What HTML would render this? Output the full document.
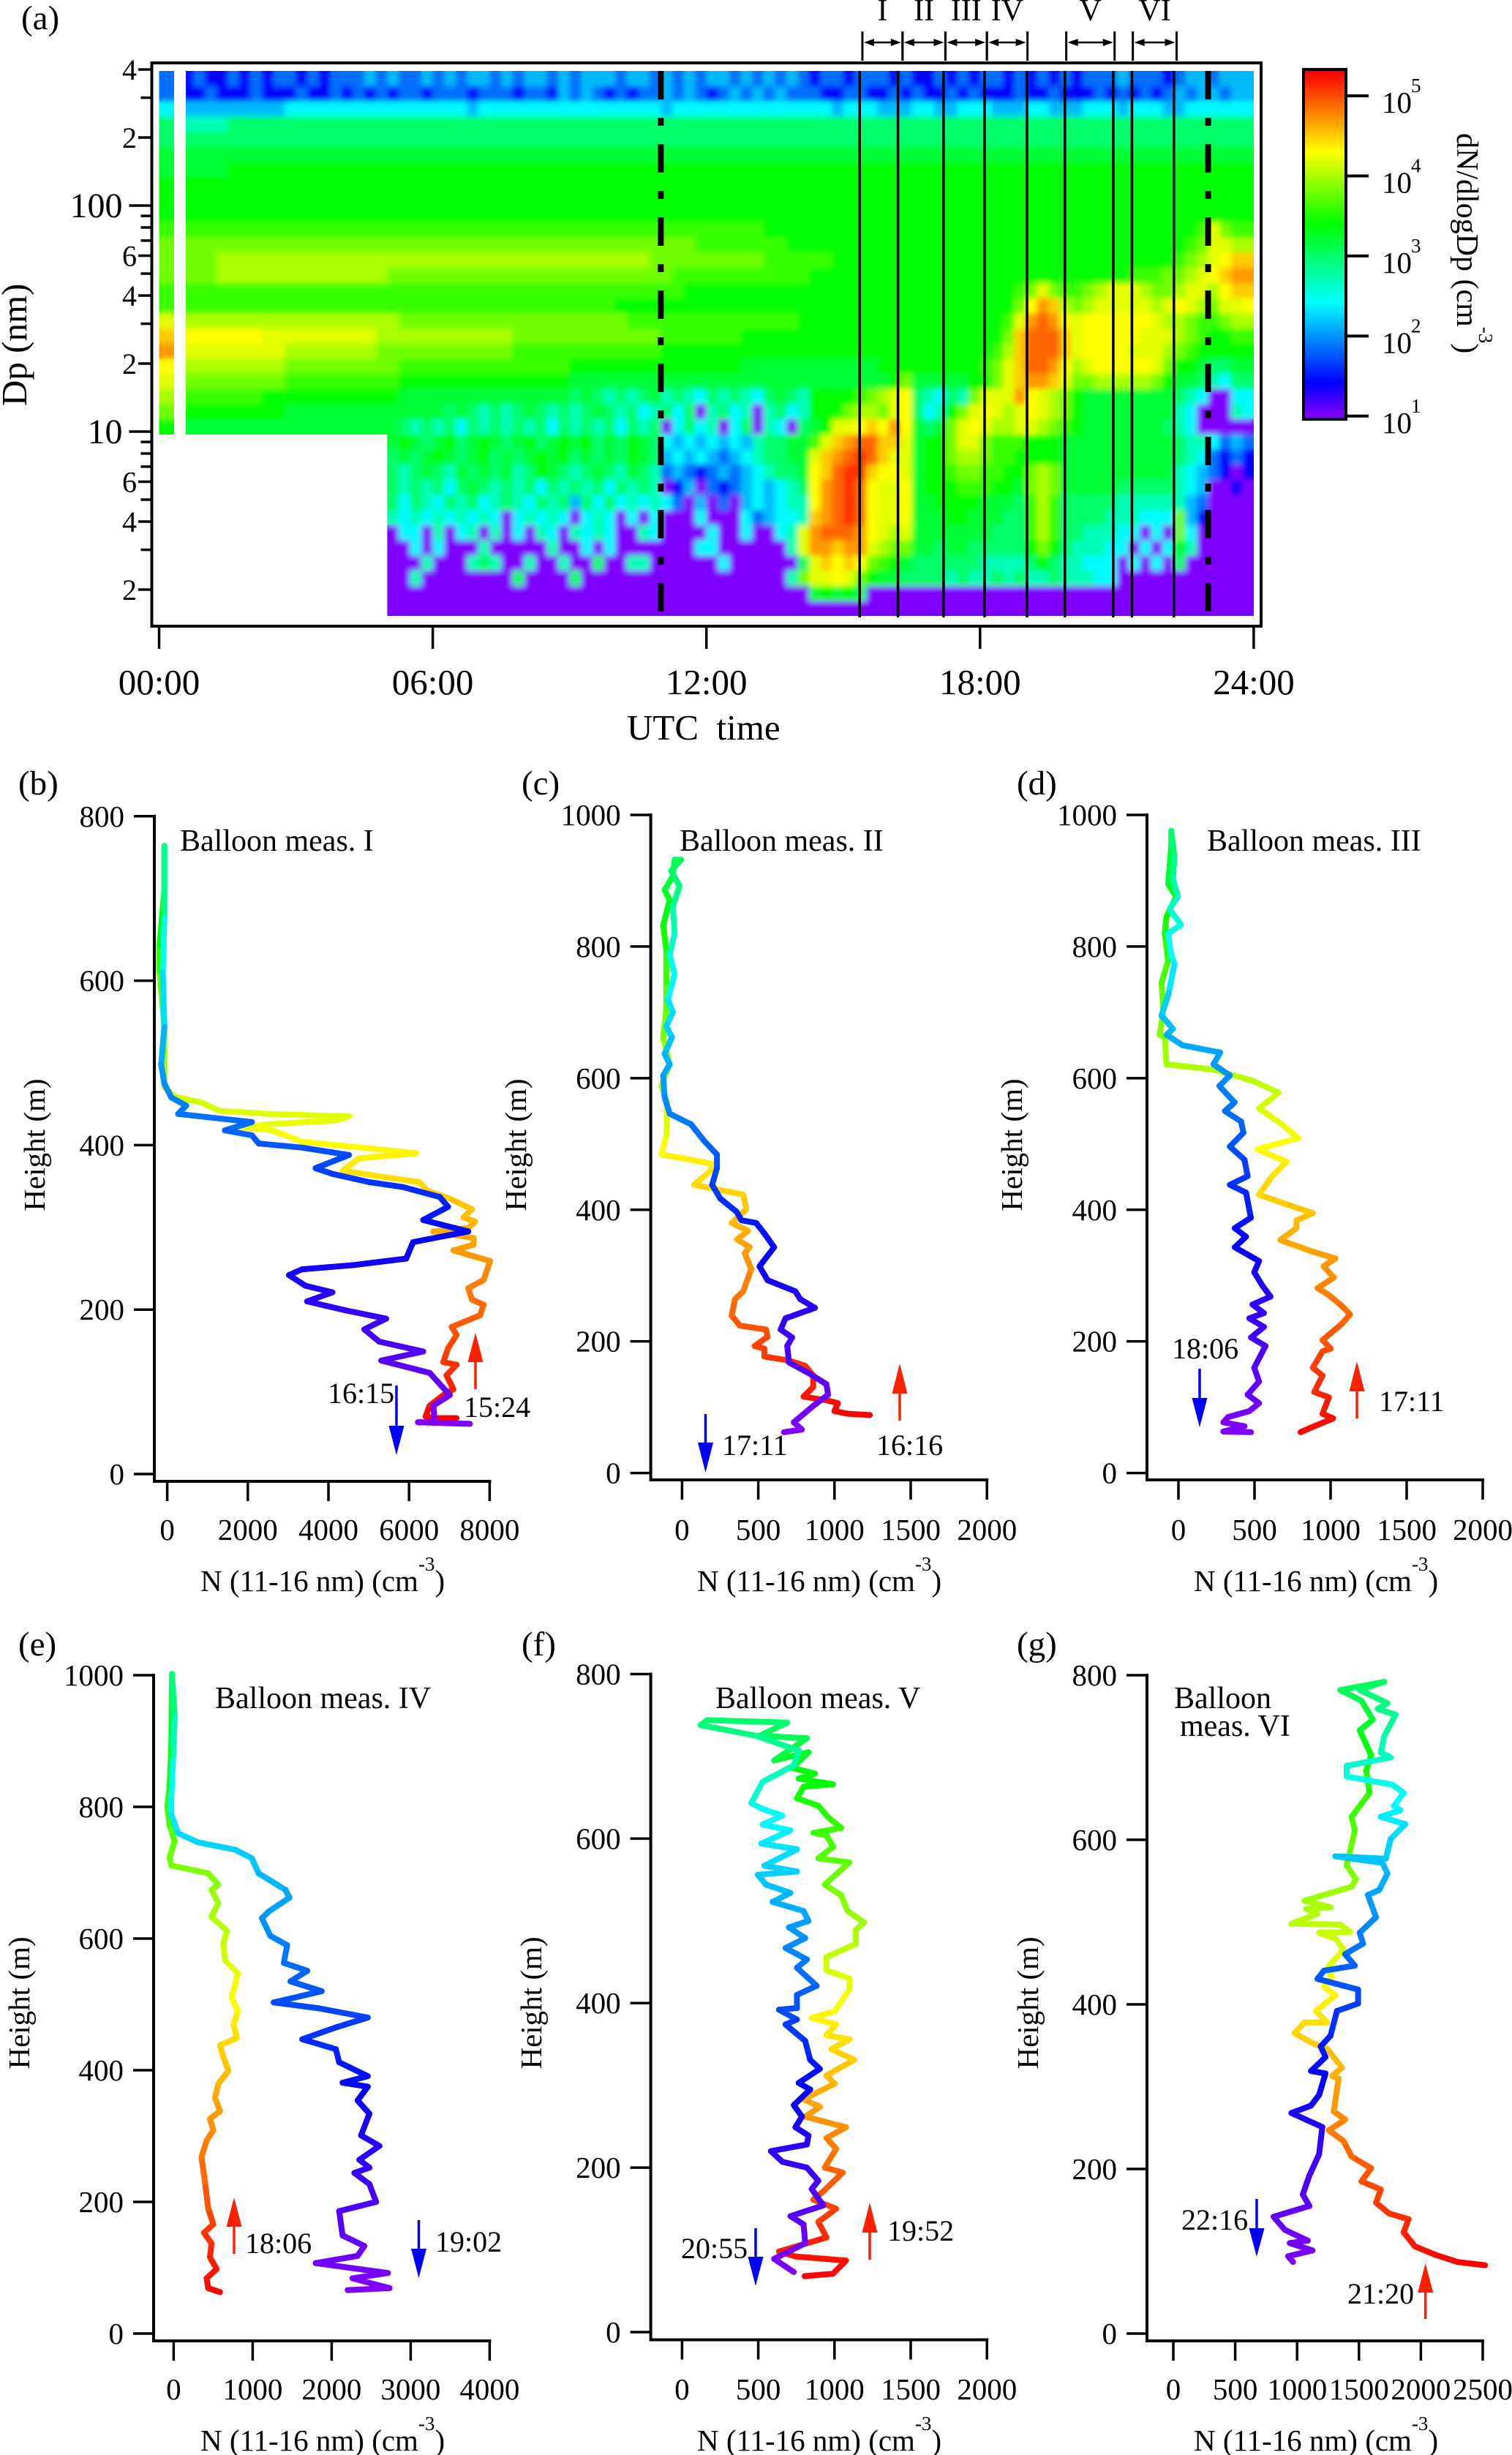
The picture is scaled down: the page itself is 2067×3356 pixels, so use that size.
<!DOCTYPE html>
<html><head><meta charset="utf-8"><title>Particle size distribution and balloon profiles</title>
<style>
html,body{margin:0;padding:0;background:#fff}
svg{display:block}
text{font-family:"Liberation Serif",serif;fill:#000}
.t41{font-size:41px}.t42{font-size:42px}.t47{font-size:47px}.t49{font-size:49px}.t39{font-size:40px}
</style></head><body>
<svg id="fig" xmlns="http://www.w3.org/2000/svg" width="2067" height="3356" viewBox="0 0 2067 3356">
<defs>
<filter id="soften" x="-2%" y="-2%" width="104%" height="104%"><feGaussianBlur stdDeviation="4"/></filter>
<clipPath id="heatClip"><rect x="217.5" y="97" width="1496.5" height="497"/><rect x="529.2" y="590" width="1184.8" height="252"/></clipPath>
</defs>
<g id="layer-marks"></g>
<g id="layer-static">
<text class="t47" x="29" y="40">(a)</text>
<text class="t49" transform="translate(36,555) rotate(-90)">Dp (nm)</text>
<text class="t49" x="857" y="1011" xml:space="preserve">UTC  time</text>
<text class="t42" transform="translate(1992,182) rotate(90)">dN/dlogDp (cm<tspan dy="-30" font-size="27">-3</tspan><tspan dy="30">)</tspan></text>

<text class="t47" x="25" y="1086">(b)</text>
<text class="t47" x="713" y="1086">(c)</text>
<text class="t47" x="1390" y="1086">(d)</text>
<text class="t47" x="25" y="2263">(e)</text>
<text class="t47" x="713" y="2263">(f)</text>
<text class="t47" x="1390" y="2263">(g)</text>

<text class="t42" x="246" y="1163">Balloon meas. I</text>
<text class="t42" x="929" y="1163">Balloon meas. II</text>
<text class="t42" x="1650" y="1163">Balloon meas. III</text>
<text class="t42" x="294" y="2335">Balloon meas. IV</text>
<text class="t42" x="978" y="2335">Balloon meas. V</text>
<text class="t42" x="1605" y="2335">Balloon</text>
<text class="t42" x="1613" y="2373">meas. VI</text>

<text class="t41" transform="translate(61,1565) rotate(-90)" text-anchor="middle">Height (m)</text>
<text class="t41" transform="translate(719,1565) rotate(-90)" text-anchor="middle">Height (m)</text>
<text class="t41" transform="translate(1397,1565) rotate(-90)" text-anchor="middle">Height (m)</text>
<text class="t41" transform="translate(40,2738) rotate(-90)" text-anchor="middle">Height (m)</text>
<text class="t41" transform="translate(740,2738) rotate(-90)" text-anchor="middle">Height (m)</text>
<text class="t41" transform="translate(1419,2738) rotate(-90)" text-anchor="middle">Height (m)</text>

<text class="t41" x="274" y="2175">N (11-16 nm) (cm<tspan dy="-28" font-size="27">-3</tspan><tspan dy="28">)</tspan></text>
<text class="t41" x="953" y="2175">N (11-16 nm) (cm<tspan dy="-28" font-size="27">-3</tspan><tspan dy="28">)</tspan></text>
<text class="t41" x="1632" y="2175">N (11-16 nm) (cm<tspan dy="-28" font-size="27">-3</tspan><tspan dy="28">)</tspan></text>
<text class="t41" x="274" y="3350">N (11-16 nm) (cm<tspan dy="-28" font-size="27">-3</tspan><tspan dy="28">)</tspan></text>
<text class="t41" x="953" y="3350">N (11-16 nm) (cm<tspan dy="-28" font-size="27">-3</tspan><tspan dy="28">)</tspan></text>
<text class="t41" x="1632" y="3350">N (11-16 nm) (cm<tspan dy="-28" font-size="27">-3</tspan><tspan dy="28">)</tspan></text>

<text class="t39" x="448" y="1918">16:15</text>
<text class="t39" x="634" y="1937">15:24</text>
<text class="t39" x="987" y="1989">17:11</text>
<text class="t39" x="1198" y="1989">16:16</text>
<text class="t39" x="1602" y="1857">18:06</text>
<text class="t39" x="1885" y="1929">17:11</text>
<text class="t39" x="335" y="3080">18:06</text>
<text class="t39" x="595" y="3078">19:02</text>
<text class="t39" x="1213" y="3063">19:52</text>
<text class="t39" x="931" y="3087">20:55</text>
<text class="t39" x="1842" y="3149">21:20</text>
<text class="t39" x="1615" y="3048">22:16</text>
</g>
</svg>
<script>
// ---- Panel (a) heatmap: each row is run-length text of level letters, one cell per 15 minutes
const heatmapLevels = {a:1,b:1.4,c:1.85,d:2.15,e:2.4,f:2.7,g:3,h:3.2,i:3.4,j:3.6,k:3.8,l:4,m:4.2,n:4.3,o:4.5,p:4.7,q:4.9,r:5.1,s:5.3};
const heatmapRows = [
"ccbcbbcbcbccbcbcccdcdccdcdcddcdcddcdcdddcddcdcdcddcdcdcdcbccbcccbcbbcbcbccbcbcbcbcccdcccbcddcdd",
"ccbbcbbbcbbbcbbcbcbcbccbcccbcccbccbdcdcbcbccdcdcbcdcdcdcccbbccbbcbcbbcbcbbbcbbcbbbcbcbcbcdcddcd",
"eed9e16de16de8e6de3d3e2d2e3d3e2d3e3de3d2e6",
"ggf4g90",
"ggg94",
"hhh94",
"hhh4i90",
"iii94",
"iii94",
"iii94",
"jjj51i38jmkj2",
"kkk45j8i35jkm2l2",
"kkk3l38k10j6i30jklmno2",
"kkk3l15k25j12i28j3k2lmnop2",
"jjj44i29jkmkj2klm3lk2lm2lno2",
"jjj38i35knpolklm5lmnmlkm2n",
"mml19k20j15i18jmpqpnmn6ml2kj2kl2",
"oon7m10l12k13j7i23koqqqomn5m2mlkji2j2",
"ppm9l8k12j13i29jloqqqomn4m2mlkji5",
"nnl9k10j15i15h12i9jkmoq2pnlmn5mki2hg2h2",
"mmk9j10i15h28ikh5i2kmop2omk2l5kih2gfeg2",
"llj7i12h15ghgfgfghfgfegfgfeghgfi4jklmngfegfkm3pnmlkih8gfea2e2",
"kki9h14ghgfgfghgfgfghgfgefgegafgefafgefi3kllkmngefikmnmlmnmlkih8fea3fe",
"iih19gfgfgegfgfgfgegfgfgegfgaegefaegafeaghimmnonpnhghkmnml2m2lkjih7gfea5",
".20hihghighihghighihighgihgededededfgghhjmopq2o2mhi2km2kj3i3h10gf2ecdc",
".20ghghihghighghihighghgihgdededcdefgghhmopqrqom2hi2kl2kj2i4h10gfecbcb",
".20gfghgfhghghfgihgfghgfhgfcdcbcdcdefgghnoqr2on2mhi2jk2j2i2klkh10fedcbab",
".20gfgfgeghgfgfgegfgfgegfgfabdacbcdedefgnpqrqnm2nhi2ij3i2hklkh5g5fedaaba",
".20gegfegfgefgfegfgdgegefefecadacadedeffnpqrqnm2nh2ii3h3gjljg5f5fdca4",
".20fefefefefeaefefeaefeaeaeaaaeaaaecdeefopqrqnm2nh3i2h3g2jljg4f3e3kdba4",
".20aeeafaefafaeafeafefeaafeaaaaeaaeaaefmpq3pnmlmh3h4g3jljg2f3e2aeakea5",
".20aaeaeaaafaaaaafaaeaeaaaaaaaeeaaaaaafmp2op2mlk2h2gh2g5ikigf3e2aeaeifa5",
".20aaafaaafgfaafaafaagaaffaaaaaaeaaaaaagmononkjihg3g3f4gigf2e3aeaeaga6",
".20a2fa8ga4ga7a11fkm2nmkih2gg3fgf2gfgf2gff2e2a5a7",
".20a37hihiga34",
".20a76"
];
const heatmapLogDpTop = 2.595;
const heatmapLogDpBottom = 0.184;
const hoursPerColumn = 0.25;
const timeTicks = [0,6,12,18,24];
const timeTickLabels = ['00:00','06:00','12:00','18:00','24:00'];
const dpTicks = [2,3,4,5,6,7,8,9,10,20,30,40,50,60,70,80,90,100,200,300,400];
const dpLabelValues = [2,4,6,10,20,40,60,100,200,400];
const dpLabelTexts = ['2','4','6','10','2','4','6','100','2','4'];
const colorbarExponents = [1,2,3,4,5];
const flightLineHours = [15.36,16.2,17.2,18.1,19.03,19.86,20.92,21.33,22.25];
const dashLineHours = [11.0,23.0];
const periodNames = ['I','II','III','IV','V','VI'];
const periodStarts = [15.42,16.3,17.24,18.15,19.89,21.35];
const periodEnds = [16.3,17.24,18.15,19.04,20.95,22.31];

// ---- Balloon profiles: ascent then descent
const bConc = [7180,6680,6410,6510,6850,7100,6930,7180,6850,6970,7180,7060,7760,7850,7560,7470,7850,8010,7100,7600,7600,6600,7470,7640,7350,7560,7010,6430,6260,5260,4350,4760,6180,4850,3350,2930,2600,1850,2680,4180,4510,2520,1270,850,180,-70,-70,-190,-190,-70,-70,
-70,-110,-70,-150,-70,100,470,270,1180,2100,1430,2100,2270,3350,4510,3680,4100,5010,5850,6760,6970,6350,7470,6100,5930,4600,3350,3020,3430,4100,3470,4430,5430,4890,5260,6350,5310,6510,7010,6600,6640,6220,7510];
const bHeight = [68,68,70,83,96,103,120,133,136,153,169,179,193,206,212,226,236,259,272,279,287,295,299,307,312,322,335,345,355,362,369,384,390,397,404,412,418,422,426,430,435,438,442,452,459,471,544,611,644,710,764,
677,611,544,498,475,458,448,438,433,428,418,412,402,397,388,372,365,355,349,337,325,309,295,282,262,254,249,242,229,221,210,199,189,176,161,149,138,123,96,83,63,63,61];

const cConc = [1232,1087,1000,1022,958,797,861,861,808,701,540,540,476,561,551,379,326,347,401,454,411,444,362,433,326,422,401,79,186,197,-135,-103,-99,-135,-81,-124,-103,-103,-103,-124,-81,-114,-60,-49,
-6,-71,-17,-60,-49,-81,-49,-92,-60,-103,-66,-114,-81,-124,-114,-81,58,144,229,229,197,251,358,390,486,540,604,508,561,744,776,872,679,647,722,690,701,829,947,958,861,733,786,669];
const cHeight = [88,90,94,106,110,116,131,148,163,171,177,189,193,207,218,224,239,264,276,310,334,343,355,368,380,401,423,438,459,470,484,513,563,588,621,662,704,745,795,832,870,886,907,932,
932,915,892,861,820,787,758,720,700,679,662,637,621,604,571,546,530,505,484,463,438,417,397,384,380,364,343,314,293,276,264,251,235,218,206,193,168,152,135,119,102,77,66,62];

const dConc = [803,872,1017,947,989,893,947,883,947,1000,947,1075,1128,1064,979,915,1021,954,1032,872,669,776,776,883,701,530,615,711,519,786,680,530,658,487,231,-79,-90,-122,-100,-111,-68,-90,-79,-15,-68,-47,-47,
-26,-36,-4,-58,17,-68,-47,-26,-64,-111,-36,-79,28,274,231,338,269,369,306,412,427,338,434,455,338,444,476,370,444,370,530,498,551,605,487,562,466,562,477,572,498,530,455,530,466,327,295,434,295,477];
const dHeight = [62,69,83,90,115,123,148,160,185,189,202,227,241,256,272,281,297,314,326,337,354,372,384,395,409,423,451,473,492,509,530,554,578,596,613,621,662,666,704,745,778,820,845,876,895,953,976,
936,903,876,857,833,820,787,774,729,695,675,666,650,639,621,604,588,563,550,534,517,496,476,451,438,426,388,372,359,343,322,305,285,268,256,243,235,222,206,193,160,139,119,106,94,85,77,71,63,62];

const eConc = [587,438,417,544,459,480,383,502,438,395,353,417,502,459,587,523,565,693,629,587,799,757,812,735,812,650,629,672,480,565,480,565,438,-30,-51,13,-51,-81,-51,-30,-21,
13,-8,-30,-30,55,310,778,990,1075,1415,1466,1203,1118,1224,1437,1394,1692,1479,1874,1267,1840,2457,2053,1628,2053,2095,2457,2138,2457,2329,2478,2372,2605,2350,2478,2287,2478,2563,2095,2138,2414,2329,1798,2712,2265,2478,2733,2202];
const eHeight = [63,69,84,98,116,137,153,166,190,231,268,293,309,326,338,358,379,399,420,438,449,469,490,510,547,567,592,612,633,654,674,682,699,711,723,748,772,801,830,895,1002,
936,871,813,789,760,746,735,722,699,674,662,641,631,604,590,563,551,535,520,503,494,480,465,447,432,412,391,381,375,354,334,301,285,264,252,244,227,200,186,149,133,118,107,92,84,77,69,66];

const fConc = [804,990,1076,744,636,947,894,1011,861,926,1054,936,1011,947,1076,808,904,797,1001,947,1129,979,1099,947,1011,851,1001,1099,1099,947,947,1140,1140,1194,1086,1044,936,1097,894,991,948,862,1044,958,894,754,797,990,765,872,722,830,604,819,508,690,165,
122,486,765,733,529,454,529,658,529,711,519,754,540,754,497,551,711,594,797,829,701,808,679,819,754,883,754,754,636,754,679,808,840,904,765,840,733,787,744,829,819,583,658,819,894,851,926,711,797,808,604,733];
const fHeight = [68,71,87,92,98,115,134,150,161,171,194,200,223,236,249,262,274,283,302,312,331,344,356,361,374,382,390,417,430,440,456,472,489,498,512,531,544,571,576,590,604,607,613,626,640,649,663,666,673,679,686,705,695,722,725,741,744,
738,725,707,689,669,643,636,628,617,610,594,587,567,560,556,544,534,523,512,500,492,479,467,453,443,421,410,394,392,380,374,354,331,320,303,295,276,262,249,239,228,220,207,200,184,174,154,141,131,108,89,73];

const gConc = [2519,2295,2111,1953,1861,1901,1743,1638,1677,1520,1598,1441,1375,1257,1388,1296,1335,1283,1362,1244,1138,980,1059,1244,1152,1309,1217,1283,1244,1375,1309,1178,1428,1349,954,1165,1073,1270,1060,1441,1475,1401,1467,1441,1585,1559,1598,1506,1612,1520,1349,1704,
1506,1730,1651,1796,1704,1677,1756,1401,1401,1769,1861,1782,1835,1677,1874,1756,1717,1309,1690,1730,1664,1572,1638,1506,1533,1388,1467,1217,1165,1493,1493,1322,1270,1191,1230,1112,1230,1178,1112,954,1204,1178,1099,1046,1099,810,902,1086,941,1125,928,967];
const gHeight = [83,87,96,106,123,139,146,159,175,185,201,215,234,247,260,270,310,313,323,346,352,365,378,378,392,411,421,434,444,467,480,487,488,497,498,510,516,518,526,543,552,569,611,628,657,684,703,733,746,769,782,792,
782,766,759,752,726,706,700,690,677,667,657,641,636,628,619,601,577,580,572,559,539,533,506,487,474,461,447,441,431,418,401,392,362,349,336,319,316,290,277,268,251,218,192,169,155,142,126,113,110,101,94,87];

const xTicks1 = [0,2000,4000,6000,8000];
const xTicks2 = [0,500,1000,1500,2000];
const xTicks3 = [0,1000,2000,3000,4000];
const xTicks4 = [0,500,1000,1500,2000,2500];
const heightTicks800 = [0,200,400,600,800];
const heightTicks1000 = [0,200,400,600,800,1000];

// ---- drawing helpers
const NS = 'http://www.w3.org/2000/svg';
const marks = document.getElementById('layer-marks');
function mk(tag, attrs, name, parent){
  const el = document.createElementNS(NS, tag);
  for (const k in attrs) el.setAttribute(k, attrs[k]);
  
  
  (parent || marks).appendChild(el);
  return el;
}
function line(x1,y1,x2,y2,w,name,color){
  return mk('line',{x1,y1,x2,y2,stroke:color||'#000','stroke-width':w},name);
}
function label(x,y,str,size,anchor,name){
  const t = mk('text',{x,y,'font-size':size,'text-anchor':anchor},name);
  t.textContent = str;
  return t;
}
const levelStops = [[1,128,0,255],[1.42,0,0,255],[2.42,0,255,255],[3.4,0,255,0],[4.3,255,255,0],[5.3,255,0,0]];
const flightStops = [[0,255,0,0],[0.24,255,255,0],[0.44,0,255,0],[0.6,0,255,255],[0.84,0,0,255],[1,128,0,255]];
function ramp(stops,v){
  if (v<=stops[0][0]) return 'rgb('+stops[0].slice(1).join(',')+')';
  for (let i=1;i<stops.length;i++){
    if (v<=stops[i][0]){
      const a=stops[i-1], b=stops[i], f=(v-a[0])/(b[0]-a[0]);
      return 'rgb('+[1,2,3].map(c=>Math.round(a[c]+(b[c]-a[c])*f)).join(',')+')';
    }
  }
  const l=stops[stops.length-1];
  return 'rgb('+l.slice(1).join(',')+')';
}
function expandRow(s){
  const out=[]; const re=/([a-s.])(\d*)/g; let m;
  while((m=re.exec(s))){ const n=m[2]?+m[2]:1; for(let i=0;i<n;i++) out.push(m[1]); }
  while(out.length<96) out.push(out[out.length-1]);
  return out.slice(0,96);
}

// ---- Panel (a)
const timeX = h => 217.5 + 62.35*h;
const dpY = d => 590 - 309*Math.log10(d/10);
const logDpY = l => 590 - 309*(l-1);
const rowLog = (heatmapLogDpTop-heatmapLogDpBottom)/heatmapRows.length;
const heatGroup = mk('g',{id:'heatCells','shape-rendering':'crispEdges'},'size-distribution-heatmap');
heatmapRows.forEach((row,r)=>{
  const y0 = logDpY(heatmapLogDpTop - r*rowLog), y1 = logDpY(heatmapLogDpTop-(r+1)*rowLog);
  expandRow(row).forEach((ch,c)=>{
    if (ch==='.') return;
    const x0 = timeX(c*hoursPerColumn), x1 = timeX((c+1)*hoursPerColumn);
    const cell = document.createElementNS(NS,'rect');
    cell.setAttribute('x',x0.toFixed(2));
    cell.setAttribute('y',y0.toFixed(2));
    cell.setAttribute('width',(x1-x0).toFixed(2));
    cell.setAttribute('height',(y1-y0).toFixed(2));
    cell.setAttribute('fill',ramp(levelStops,heatmapLevels[ch]));
    
    
    heatGroup.appendChild(cell);
  });
});
const softWrap = mk('g',{'clip-path':'url(#heatClip)'},'heatmap-soft-layer');
mk('use',{href:'#heatCells',filter:'url(#soften)'},'heatmap-softened-copy',softWrap);
mk('rect',{x:238,y:97,width:16,height:497,fill:'#fff'},'heatmap-data-gap');
flightLineHours.forEach(h=>line(timeX(h),97,timeX(h),844,3.5,'balloon-flight-line'));
dashLineHours.forEach(h=>{
  const d=line(timeX(h),97,timeX(h),838,8,'dash-dot-marker-line');
  d.setAttribute('stroke-dasharray','39 25 11 25');
});
mk('rect',{x:207.5,y:86,width:1516.5,height:770,fill:'none',stroke:'#000','stroke-width':4},'heatmap-frame');
dpTicks.forEach(d=>{
  const i = dpLabelValues.indexOf(d);
  const len = (d===10||d===100)?31:(i>=0?18.5:15);
  line(207.5-len,dpY(d),207.5,dpY(d),3.5,'dp-axis-tick');
  if (i>=0){
    const big = d===10||d===100;
    label(big?167.5:187,dpY(d)+(big?16:14),dpLabelTexts[i],big?48:40,'end','dp-tick-label');
  }
});
timeTicks.forEach((h,i)=>{
  line(timeX(h),856,timeX(h),887,3.5,'time-axis-tick');
  label(timeX(h),949,timeTickLabels[i],49,'middle','time-tick-label');
});
periodNames.forEach((n,i)=>{
  const a=timeX(periodStarts[i]), b=timeX(periodEnds[i]), m=(a+b)/2;
  line(a,43,a,83,3,'period-bracket-start');
  line(b,43,b,83,3,'period-bracket-end');
  line(a+8,58,b-8,58,2.5,'period-span-line');
  mk('polygon',{points:`${a+2},58 ${a+16},53 ${a+16},63`,fill:'#000'},'period-arrow-left');
  mk('polygon',{points:`${b-2},58 ${b-16},53 ${b-16},63`,fill:'#000'},'period-arrow-right');
  label(m,28,n,42,'middle','period-label');
});

// ---- Colour bar
const barY = l => 568.8 - 109.45*(l-1);
const defs = mk('defs',{},'colorbar-defs');
const grad = mk('linearGradient',{id:'barGrad',x1:0,y1:0,x2:0,y2:1},'colorbar-gradient',defs);
const barTop = 5.33, barBottom = 0.96;
levelStops.slice().reverse().forEach(s=>{
  const off = Math.max(0,(barTop-s[0])/(barTop-barBottom));
  mk('stop',{offset:off.toFixed(4),'stop-color':'rgb('+s.slice(1).join(',')+')'},'colorbar-stop',grad);
});
mk('rect',{x:1782,y:barY(barTop),width:58,height:barY(barBottom)-barY(barTop),fill:'url(#barGrad)',stroke:'#000','stroke-width':4},'colorbar');
colorbarExponents.forEach(e=>{
  line(1840,barY(e),1871,barY(e),4,'colorbar-tick');
  label(1889,barY(e)+23,'10',41,'start','colorbar-tick-label');
  label(1929,barY(e)-5,String(e),27,'start','colorbar-tick-exponent');
});

// ---- Balloon panels
const panelB = {key:'b',conc:bConc,height:bHeight,xTicks:xTicks1,yTicks:heightTicks800,yTop:800,axisX:211,x0:228.6,xUnit:0.0551,y0:2015,yUnit:1.124,axisY:2025,tickLabelY:2105,
  up:{x:650,base:1899,head:1862,tip:1822},down:{x:542,base:1894,head:1949,tip:1989}};
const panelC = {key:'c',conc:cConc,height:cHeight,xTicks:xTicks2,yTicks:heightTicks1000,yTop:1000,axisX:889.6,x0:932.4,xUnit:0.2084,y0:2013.6,yUnit:0.8996,axisY:2023,tickLabelY:2105,
  up:{x:1230,base:1942,head:1905,tip:1864},down:{x:964.5,base:1933,head:1972,tip:2013}};
const panelD = {key:'d',conc:dConc,height:dHeight,xTicks:xTicks2,yTicks:heightTicks1000,yTop:1000,axisX:1568,x0:1611,xUnit:0.208,y0:2013.6,yUnit:0.8996,axisY:2023,tickLabelY:2105,
  up:{x:1855,base:1939,head:1902,tip:1861},down:{x:1640,base:1871,head:1911,tip:1951}};
const panelE = {key:'e',conc:eConc,height:eHeight,xTicks:xTicks3,yTicks:heightTicks1000,yTop:1000,axisX:210,x0:237.4,xUnit:0.108,y0:3190,yUnit:0.9,axisY:3200,tickLabelY:3280,
  up:{x:320,base:3081,head:3044,tip:3004},down:{x:572.5,base:3035,head:3074,tip:3114}};
const panelF = {key:'f',conc:fConc,height:fHeight,xTicks:xTicks2,yTicks:heightTicks800,yTop:800,axisX:889.6,x0:932.4,xUnit:0.2084,y0:3188,yUnit:1.1244,axisY:3198.5,tickLabelY:3280,
  up:{x:1189,base:3089,head:3052,tip:3011},down:{x:1033,base:3046,head:3085,tip:3125}};
const panelG = {key:'g',conc:gConc,height:gHeight,xTicks:xTicks4,yTicks:heightTicks800,yTop:800,axisX:1568,x0:1604,xUnit:0.1692,y0:3190,yUnit:1.125,axisY:3200,tickLabelY:3280,
  up:{x:1948.7,base:3170,head:3134,tip:3094},down:{x:1718,base:3006,head:3046,tip:3085}};

function arrow(a,color,name){
  line(a.x,a.base,a.x,a.head,3.5,name+'-shaft',color);
  mk('polygon',{points:`${a.x},${a.tip} ${a.x-10.5},${a.head} ${a.x+10.5},${a.head}`,fill:color},name+'-head');
}
[panelB,panelC,panelD,panelE,panelF,panelG].forEach(p=>{
  const X = v => p.x0 + p.xUnit*v;
  const Y = v => p.y0 - p.yUnit*v;
  const n = Math.min(p.conc.length,p.height.length);
  let total = 0;
  for (let i=1;i<n;i++) total += Math.abs(p.height[i]-p.height[i-1]);
  let run = 0;
  const g = mk('g',{fill:'none','stroke-width':8,'stroke-linecap':'round'},'profile-'+p.key);
  for (let i=1;i<n;i++){
    const step = Math.abs(p.height[i]-p.height[i-1]);
    const frac = (run+step/2)/total;
    run += step;
    const seg = document.createElementNS(NS,'line');
    seg.setAttribute('x1',X(p.conc[i-1]).toFixed(1));
    seg.setAttribute('y1',Y(p.height[i-1]).toFixed(1));
    seg.setAttribute('x2',X(p.conc[i]).toFixed(1));
    seg.setAttribute('y2',Y(p.height[i]).toFixed(1));
    seg.setAttribute('stroke',ramp(flightStops,frac));
    
    
    g.appendChild(seg);
  }
  const last = p.xTicks[p.xTicks.length-1];
  line(p.axisX,Y(p.yTop)-2,p.axisX,p.axisY+2,4,'y-axis-line-'+p.key);
  line(p.axisX,p.axisY,X(last)+2,p.axisY,4,'x-axis-line-'+p.key);
  p.yTicks.forEach(v=>{
    line(p.axisX-28,Y(v),p.axisX,Y(v),3.5,'y-axis-tick-'+p.key);
    label(p.axisX-41,Y(v)+14,String(v),41,'end','y-tick-label-'+p.key);
  });
  p.xTicks.forEach(v=>{
    line(X(v),p.axisY,X(v),p.axisY+27,3.5,'x-axis-tick-'+p.key);
    label(X(v),p.tickLabelY,String(v),41,'middle','x-tick-label-'+p.key);
  });
  arrow(p.up,'#ff2000','ascent-arrow-'+p.key);
  arrow(p.down,'#0000ff','descent-arrow-'+p.key);
});
</script>
</body></html>
